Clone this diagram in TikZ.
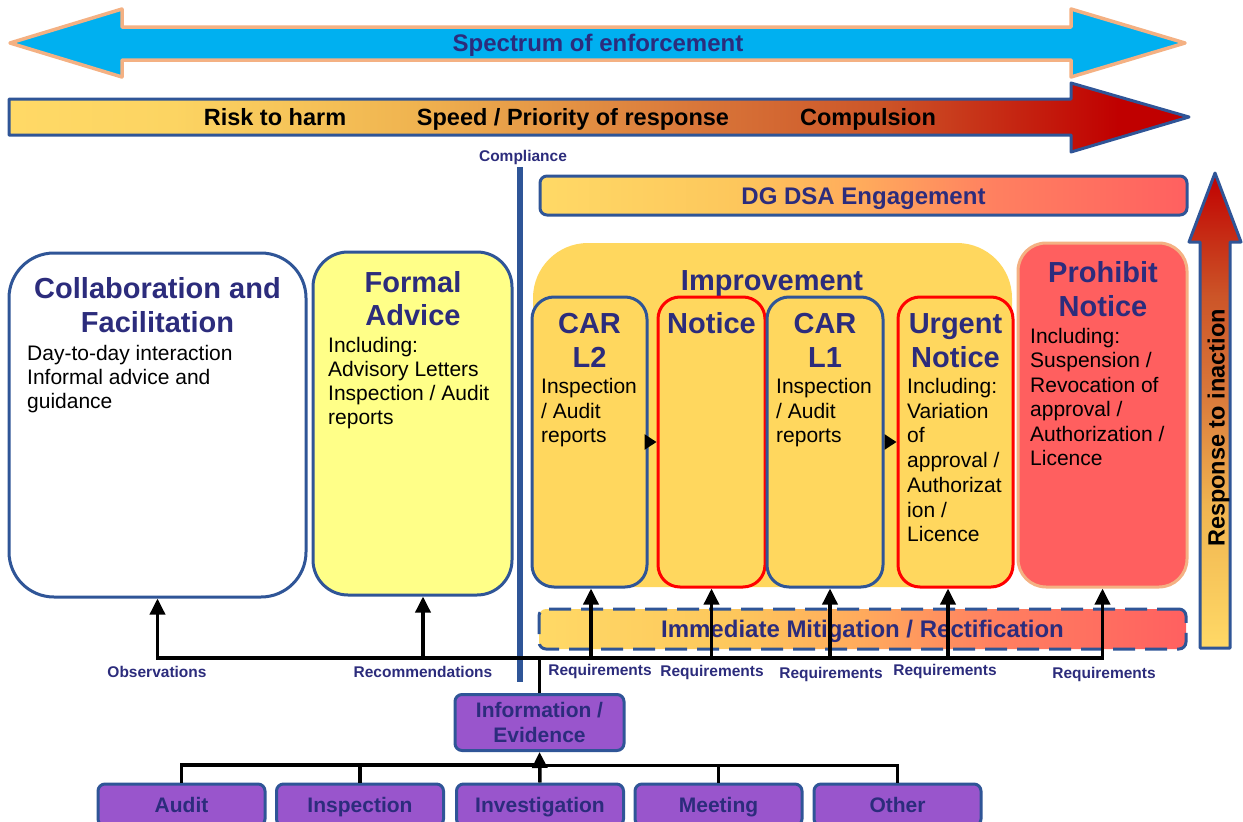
\documentclass[tikz,border=0pt]{standalone}
\usepackage{fontspec}
\setmainfont{Liberation Sans}
\usetikzlibrary{arrows.meta,calc}
\definecolor{navy}{RGB}{44,44,124}
\definecolor{bblue}{RGB}{47,85,151}
\definecolor{peach}{RGB}{244,177,131}
\definecolor{skyb}{RGB}{0,176,240}
\definecolor{gold}{RGB}{255,215,94}
\definecolor{lyel}{RGB}{255,255,136}
\definecolor{pred}{RGB}{255,95,95}
\definecolor{purp}{RGB}{153,85,204}
\definecolor{yel}{RGB}{255,217,102}
\definecolor{sa}{RGB}{252,212,98}
\definecolor{sb}{RGB}{240,180,80}
\definecolor{sc}{RGB}{217,119,58}
\definecolor{sd}{RGB}{204,85,40}
\definecolor{se}{RGB}{192,0,0}
\definecolor{da}{RGB}{253,199,92}
\definecolor{db}{RGB}{255,170,92}
\definecolor{dc}{RGB}{255,128,96}
\definecolor{dd}{RGB}{255,96,96}
\pgfdeclarehorizontalshading{barshade}{100bp}{color(0bp)=(yel); color(25bp)=(yel); color(32bp)=(sa); color(42bp)=(sb); color(54bp)=(sc); color(62bp)=(sd); color(72bp)=(se); color(100bp)=(se)}
\pgfdeclarehorizontalshading{dshade}{100bp}{color(0bp)=(yel); color(25bp)=(yel); color(40bp)=(da); color(50bp)=(db); color(60bp)=(dc); color(75bp)=(dd); color(100bp)=(dd)}
\pgfdeclareverticalshading{vshade}{100bp}{color(0bp)=(yel); color(25bp)=(yel); color(40bp)=(sb); color(52bp)=(sc); color(62bp)=(sd); color(75bp)=(se); color(100bp)=(se)}
\tikzset{
  bigt/.style={inner sep=0pt, font=\bfseries\fontsize{24}{28}\selectfont, text height=17pt, text depth=0pt},
  ttl/.style={inner sep=0pt, font=\bfseries\fontsize{29}{34}\selectfont, text=navy, text height=21pt, text depth=0pt},
  bodyt/.style={anchor=west, inner sep=0pt, font=\fontsize{21}{25}\selectfont, text height=15pt, text depth=0pt},
  lbl/.style={inner sep=0pt, font=\bfseries\fontsize{15.5}{18}\selectfont, text=navy, text height=11pt, text depth=0pt},
  pboxbase/.style={draw=bblue, line width=3pt, fill=purp, rounded corners=7pt, inner sep=0pt, font=\bfseries\fontsize{21}{25}\selectfont, text=navy},
  pbox/.style={pboxbase, minimum width=167pt, minimum height=42pt, text height=15pt, text depth=0pt},
  bigbox/.style={line width=3pt, inner sep=0pt, minimum height=344pt},
  subbox/.style={fill=gold, line width=3pt, rounded corners=22pt, minimum height=290pt, inner sep=0pt},
  wire/.style={line width=3.5pt, black},
  arrw/.style={wire, -{Triangle[length=16pt,width=15pt]}},
  smallarr/.style={line width=2.5pt, black, -{Triangle[length=12pt,width=15pt]}}
}
\begin{document}
\begin{tikzpicture}[x=1pt,y=-1pt]
\useasboundingbox (0,0) rectangle (1243,822);

% top double arrow
\path[fill=skyb, draw=peach, line width=3.5pt, line join=round]
  (10,43) -- (122,9) -- (122,27) -- (1071,27) -- (1071,9) -- (1185,43) -- (1071,77) -- (1071,60) -- (122,60) -- (122,77) -- cycle;
\node[bigt, text=navy] (spec) at (598,43) {Spectrum of enforcement};

% gradient arrow
\path[shade, shading=barshade, draw=bblue, line width=3pt, line join=round]
  (9,99) -- (1071,99) -- (1071,83) -- (1189,117) -- (1071,152) -- (1071,135) -- (9,135) -- cycle;
\node[bigt, font=\bfseries\fontsize{23.5}{28}\selectfont] (risk) at (275,117) {Risk to harm};
\node[bigt, font=\bfseries\fontsize{23.5}{28}\selectfont] (speed) at (573,117) {Speed / Priority of response};
\node[bigt, font=\bfseries\fontsize{23.5}{28}\selectfont] (compul) at (868,117) {Compulsion};

% compliance line
\node[lbl] (compl) at (523,156) {Compliance};
\draw[bblue, line width=6pt] (520,167) coordinate (ctop) -- (520,682) coordinate (cbot);

% DG DSA
\node[draw=bblue, line width=3pt, rounded corners=7pt, shade, shading=dshade, minimum width=647pt, minimum height=39pt, inner sep=0pt, bigt, text=navy] (dg) at (863.5,195.5) {DG DSA Engagement};

% Improvement
\node[fill=gold, rounded corners=55pt, minimum width=479pt, minimum height=344pt, inner sep=0pt] (impr) at (772.5,415) {};
\node[ttl] (imprt) at (772,280) {Improvement};

\node[subbox, draw=bblue, minimum width=115pt] (car2) at (589.5,442) {};
\node[subbox, draw=red, minimum width=107pt] (notice) at (711.5,442) {};
\node[subbox, draw=bblue, minimum width=116pt] (car1) at (825,442) {};
\node[subbox, draw=red, minimum width=115pt] (urgent) at (955.5,442) {};

\node[ttl] (car2t1) at (589.5,323) {CAR};
\node[ttl] (car2t2) at (589.5,357) {L2};
\foreach \t [count=\i from 0] in {Inspection,/ Audit,reports}
  \node[bodyt] (car2b\i) at (541,386+24.7*\i) {\t};
\node[ttl] (noticet) at (711.5,323) {Notice};
\node[ttl] (car1t1) at (825,323) {CAR};
\node[ttl] (car1t2) at (825,357) {L1};
\foreach \t [count=\i from 0] in {Inspection,/ Audit,reports}
  \node[bodyt] (car1b\i) at (776,386+24.7*\i) {\t};
\node[ttl] (urgt1) at (955.5,323) {Urgent};
\node[ttl] (urgt2) at (955.5,357) {Notice};
\foreach \t [count=\i from 0] in {Including:,Variation,of,approval /,Authorizat,ion /,Licence}
  \node[bodyt] (urgb\i) at (907,386+24.7*\i) {\t};

\draw[smallarr] (car2.east) -- (notice.west);
\draw[smallarr] (car1.east) -- (urgent.west);

% Prohibit
\node[bigbox, fill=pred, draw=peach, rounded corners=28pt, minimum width=169pt] (prohib) at (1102.5,415) {};
\node[ttl] (prt1) at (1103,272) {Prohibit};
\node[ttl] (prt2) at (1103,306) {Notice};
\foreach \t [count=\i from 0] in {Including:,Suspension /,Revocation of,approval /,Authorization /,Licence}
  \node[bodyt] (prb\i) at (1030,336+24.4*\i) {\t};

% Response arrow
\path[shade, shading=vshade, draw=bblue, line width=3pt, line join=round]
  (1200,648) -- (1200,242) -- (1189,242) -- (1215,173) -- (1241,242) -- (1230,242) -- (1230,648) -- cycle;
\node[bigt, rotate=90, font=\bfseries\fontsize{23.5}{28}\selectfont] (resp) at (1216,428) {Response to inaction};

% Left boxes
\node[bigbox, fill=white, draw=bblue, rounded corners=45pt, minimum width=297pt] (collab) at (157.5,425) {};
\node[ttl] (colt1) at (157.5,288) {Collaboration and};
\node[ttl] (colt2) at (157.5,322) {Facilitation};
\foreach \t [count=\i from 0] in {Day-to-day interaction,Informal advice and,guidance}
  \node[bodyt] (colb\i) at (27,353+24*\i) {\t};

\node[bigbox, fill=lyel, draw=bblue, rounded corners=35pt, minimum width=199pt, minimum height=343pt] (formal) at (412.5,423.5) {};
\node[ttl] (fort1) at (413,282) {Formal};
\node[ttl] (fort2) at (413,315) {Advice};
\foreach \t [count=\i from 0] in {Including:,Advisory Letters,Inspection / Audit,reports}
  \node[bodyt] (forb\i) at (328,344.5+24.2*\i) {\t};

% Immediate mitigation
\node[draw=bblue, dash pattern=on 22pt off 10pt, line width=3pt, rounded corners=7pt, shade, shading=dshade, minimum width=647pt, minimum height=40pt, inner sep=0pt, bigt, text=navy] (imm) at (862.5,629) {Immediate Mitigation / Rectification};

% Information box
\node[pboxbase, minimum width=169pt, minimum height=56pt, align=center, font=\bfseries\fontsize{21}{25}\selectfont] (info) at (539.5,722.5) {Information /\\Evidence};

% connectors up
\coordinate (hub) at (539.5,658);
\draw[wire] (info.north) -- (hub);
\draw[arrw] (hub) -| (collab.south);
\draw[arrw] (hub) -| ($(formal.south)+(10.5,0)$);
\draw[arrw] (hub) -| ($(car2.south)+(1.5,0)$);
\draw[arrw] (hub) -| (notice.south);
\draw[arrw] (hub) -| ($(car1.south)+(5,0)$);
\draw[arrw] (hub) -| ($(urgent.south)+(-7.5,0)$);
\draw[arrw] (hub) -| (prohib.south);

% labels
\node[lbl] (obs) at (157,672) {Observations};
\node[lbl] (rec) at (423,672) {Recommendations};
\node[lbl] (req1) at (600,670) {Requirements};
\node[lbl] (req2) at (712,671) {Requirements};
\node[lbl] (req3) at (831,673) {Requirements};
\node[lbl] (req4) at (945,670) {Requirements};
\node[lbl] (req5) at (1104,673) {Requirements};

% bottom boxes
\node[pbox] (audit) at (181.5,805) {Audit};
\node[pbox] (inspec) at (360,805) {Inspection};
\node[pbox] (invest) at (540,805) {Investigation};
\node[pbox] (meet) at (718.5,805) {Meeting};
\node[pbox] (other) at (897.5,805) {Other};

\coordinate (bbus) at (539.5,765);
\draw[wire] (audit.north) |- (bbus);
\draw[wire] (inspec.north) |- (bbus);
\draw[wire, line width=3pt] (meet.north) |- (bbus);
\draw[wire, line width=3pt] (other.north) |- (bbus);
\draw[arrw] (invest.north) -- (info.south);
\end{tikzpicture}
\end{document}
